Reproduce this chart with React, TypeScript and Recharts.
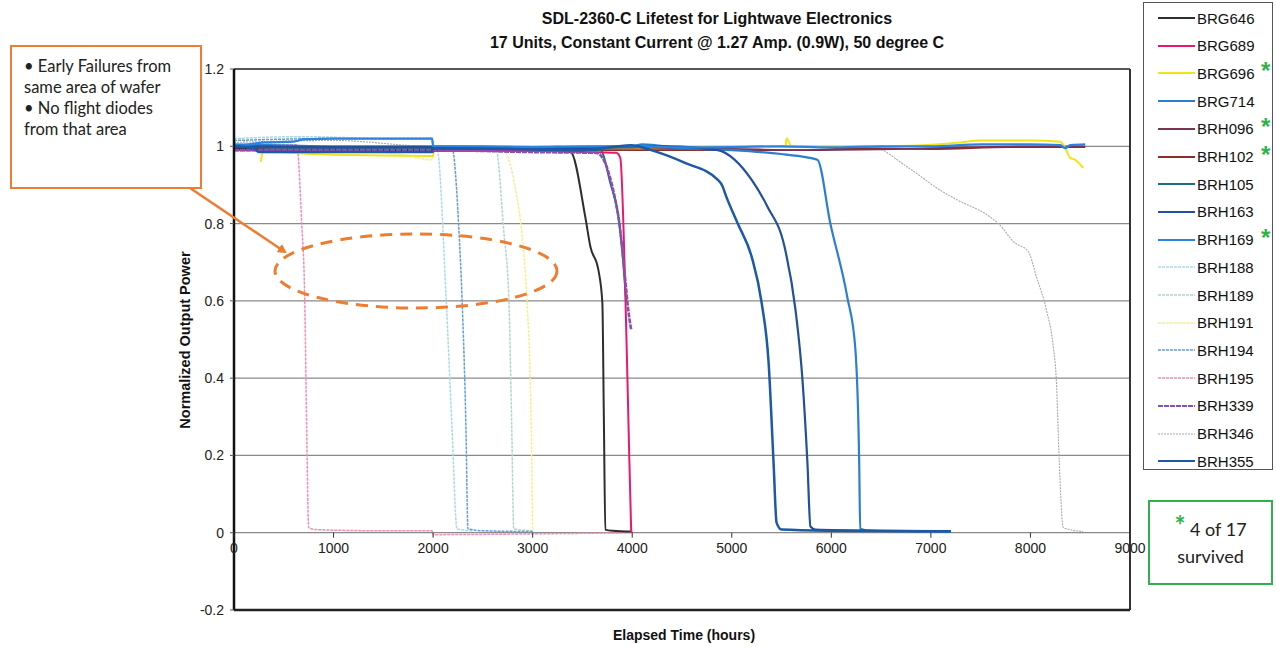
import React from "react";
import {
  LineChart,
  Line,
  XAxis,
  YAxis,
  CartesianGrid,
  ReferenceLine,
} from "recharts";

// ---------- data: [elapsed hours, normalized output power] ----------
const BRG646 = [[0, 0.995], [500, 0.99], [1000, 0.99], [2000, 0.99], [2500, 0.992], [3000, 0.99], [3380, 0.985], [3530, 0.815], [3580, 0.74], [3660, 0.68], [3700, 0.595], [3715, 0.3], [3730, 0.008], [3800, 0.005], [4000, 0.003]];
const BRG689 = [[0, 0.99], [1000, 0.988], [2000, 0.985], [2010, 0.99], [3000, 0.988], [3500, 0.985], [3840, 0.983], [3880, 0.97], [3940, 0.525], [3970, 0.2], [3990, 0.0]];
const BRG696 = [[270, 0.96], [290, 0.985], [1000, 0.978], [2000, 0.975], [2010, 0.995], [3000, 0.995], [4000, 0.997], [5000, 1.0], [5540, 1.0], [5550, 1.02], [5600, 1.0], [6500, 1.0], [7300, 1.01], [7500, 1.015], [8000, 1.015], [8300, 1.012], [8340, 1.0], [8400, 0.97], [8450, 0.965], [8530, 0.944]];
const BRG714 = [[0, 1.005], [1000, 1.0], [2000, 1.0], [3000, 0.997], [4000, 1.0], [4100, 1.005], [4500, 0.995], [5000, 0.99], [5500, 0.98], [5660, 0.975], [5860, 0.965], [5990, 0.8], [6160, 0.61], [6240, 0.48], [6280, 0.18], [6290, 0.01], [6400, 0.005], [7200, 0.004]];
const BRH096 = [[0, 0.995], [1000, 0.99], [2000, 0.99], [3000, 0.992], [4000, 0.995], [5000, 0.993], [5700, 0.99], [6500, 0.992], [7000, 0.995], [7500, 0.998], [8000, 1.0], [8550, 1.0]];
const BRH102 = [[0, 0.99], [1000, 0.99], [2000, 0.988], [3000, 0.99], [4000, 0.99], [5000, 0.99], [5700, 0.99], [6300, 0.995], [7000, 0.993], [7800, 0.998], [8550, 0.998]];
const BRH105 = [[0, 0.998], [1000, 0.995], [2000, 0.995], [3000, 0.993], [3500, 0.99], [3680, 0.99], [3780, 0.905], [3860, 0.82], [3910, 0.7], [3940, 0.595]];
const BRH163 = [[0, 1.0], [1000, 0.998], [2000, 0.998], [2010, 0.995], [3000, 0.995], [4000, 0.998], [4360, 1.0], [4860, 0.99], [5030, 0.965], [5200, 0.913], [5360, 0.843], [5530, 0.74], [5640, 0.577], [5710, 0.396], [5760, 0.18], [5790, 0.016], [5840, 0.008], [6500, 0.005], [7200, 0.004]];
const BRH169 = [[0, 1.0], [150, 1.005], [300, 1.01], [600, 1.012], [700, 1.018], [1000, 1.02], [1500, 1.02], [1990, 1.02], [2000, 1.0], [2500, 1.0], [3000, 0.998], [3500, 1.0], [4000, 1.0], [4500, 0.997], [5000, 0.998], [5500, 1.0], [6000, 0.997], [6500, 1.0], [7000, 1.0], [7500, 1.005], [8000, 1.005], [8300, 1.003], [8350, 0.995], [8400, 1.003], [8550, 1.005]];
const BRH188 = [[0, 1.02], [700, 1.025], [1500, 1.02], [1990, 1.02], [2000, 1.0], [2040, 0.995], [2130, 0.61], [2190, 0.27], [2240, 0.01], [2400, 0.005]];
const BRH189 = [[0, 1.0], [1000, 0.998], [2000, 0.995], [2630, 0.995], [2710, 0.78], [2760, 0.61], [2790, 0.27], [2810, 0.01], [3000, 0.005]];
const BRH191 = [[0, 0.995], [1000, 0.99], [1630, 0.98], [1990, 0.965], [2010, 0.995], [2680, 0.996], [2760, 0.965], [2840, 0.87], [2890, 0.78], [2940, 0.61], [2980, 0.35], [3000, 0.01]];
const BRH194 = [[0, 1.015], [1000, 1.02], [1990, 1.02], [2000, 1.0], [2190, 0.995], [2260, 0.78], [2290, 0.61], [2330, 0.27], [2350, 0.01], [2500, 0.005], [3000, 0.003]];
const BRH195 = [[0, 1.0], [300, 1.005], [630, 1.004], [680, 0.8], [710, 0.61], [730, 0.27], [750, 0.013], [830, 0.008], [1500, 0.005], [1990, 0.005], [2000, -0.005], [3000, -0.003], [4000, 0.0]];
const BRH339 = [[0, 0.99], [1000, 0.99], [2000, 0.99], [3000, 0.985], [3640, 0.983], [3860, 0.82], [3930, 0.655], [3960, 0.577], [3990, 0.525]];
const BRH346 = [[0, 1.01], [1000, 1.015], [2000, 1.0], [3000, 1.0], [4000, 1.0], [5000, 0.998], [6000, 0.998], [6390, 1.0], [6760, 0.947], [7090, 0.887], [7260, 0.862], [7590, 0.818], [7690, 0.797], [7830, 0.753], [7980, 0.727], [8060, 0.662], [8160, 0.577], [8230, 0.48], [8260, 0.396], [8290, 0.18], [8330, 0.013], [8530, 0.003]];
const BRH355 = [[0, 1.0], [200, 0.995], [250, 0.985], [1000, 0.985], [1500, 0.985], [1990, 0.985], [2000, 0.995], [3000, 0.992], [3500, 0.99], [3990, 1.003], [4190, 0.99], [4530, 0.957], [4860, 0.913], [4910, 0.895], [4930, 0.88], [5060, 0.8], [5200, 0.714], [5300, 0.595], [5370, 0.44], [5420, 0.18], [5450, 0.026], [5500, 0.008], [6000, 0.005], [7200, 0.003]];

const X_TICKS = [0, 1000, 2000, 3000, 4000, 5000, 6000, 7000, 8000, 9000];
const Y_TICKS = [-0.2, 0, 0.2, 0.4, 0.6, 0.8, 1, 1.2];
const SURVIVORS = ["BRG696", "BRH096", "BRH102", "BRH169"];

const TITLE_1 = "SDL-2360-C Lifetest for Lightwave Electronics";
const TITLE_2 = "17 Units, Constant Current @ 1.27 Amp. (0.9W), 50 degree C";
const X_LABEL = "Elapsed Time (hours)";
const Y_LABEL = "Normalized Output Power";
const NOTE_LINES = ["• Early Failures from", "same area of wafer", "• No flight diodes", "from that area"];

// legend order
const SERIES = [
  { name: "BRG646", data: BRG646, color: "#2e2e2e", width: 2, dash: undefined },
  { name: "BRG689", data: BRG689, color: "#e8196a", width: 2, dash: undefined },
  { name: "BRG696", data: BRG696, color: "#f0e41a", width: 2, dash: undefined },
  { name: "BRG714", data: BRG714, color: "#2a7fd0", width: 2.2, dash: undefined },
  { name: "BRH096", data: BRH096, color: "#7b3354", width: 1.8, dash: undefined },
  { name: "BRH102", data: BRH102, color: "#8b2f2a", width: 1.8, dash: undefined },
  { name: "BRH105", data: BRH105, color: "#1f6b80", width: 2, dash: undefined },
  { name: "BRH163", data: BRH163, color: "#22509a", width: 2.2, dash: undefined },
  { name: "BRH169", data: BRH169, color: "#2a83e0", width: 2.2, dash: undefined },
  { name: "BRH188", data: BRH188, color: "#a8dbea", width: 1.5, dash: "3 1" },
  { name: "BRH189", data: BRH189, color: "#b2d6cc", width: 1.5, dash: "3 1" },
  { name: "BRH191", data: BRH191, color: "#f2ef9c", width: 1.5, dash: "3 1" },
  { name: "BRH194", data: BRH194, color: "#5e9edb", width: 1.5, dash: "3 1" },
  { name: "BRH195", data: BRH195, color: "#f08db4", width: 1.5, dash: "3 1" },
  { name: "BRH339", data: BRH339, color: "#8a4fb5", width: 2.6, dash: "5 1" },
  { name: "BRH346", data: BRH346, color: "#a6aab2", width: 1.1, dash: "2 1" },
  { name: "BRH355", data: BRH355, color: "#1c5aa6", width: 2.5, dash: undefined },
];

// drawing order: light ones underneath, bold blue ones on top
const DRAW_ORDER = ["BRH346", "BRH191", "BRH189", "BRH188", "BRH194", "BRH195", "BRH102", "BRH096", "BRG696", "BRH105", "BRG646", "BRG689", "BRH339", "BRG714", "BRH163", "BRH169", "BRH355"];

// ---------- layout ----------
const W = 1276;
const H = 648;
const PLOT_LEFT = 234;
const PLOT_RIGHT = 1130;
const PLOT_TOP = 69;
const PLOT_BOTTOM = 610;
const Y_AXIS_W = 60;
const X_AXIS_H = 30;
const Y_MIN = -0.2;
const Y_MAX = 1.2;
const ZERO_Y = PLOT_TOP + ((PLOT_BOTTOM - PLOT_TOP) * (Y_MAX - 0)) / (Y_MAX - Y_MIN);
const FONT = "'Liberation Sans', Arial, sans-serif";
const NOTE_FONT = "Lato, 'Open Sans', sans-serif";
const ORANGE = "#ed7d31";
const GREEN = "#2fb24c";

const fmtY = (v: number) => String(Number(v.toFixed(1)));

const XTick = (props: any) => {
  const { x, payload } = props;
  return (
    <g>
      <line x1={x} x2={x} y1={ZERO_Y} y2={ZERO_Y + 5} stroke="#333" strokeWidth={1} />
      <text x={x} y={ZERO_Y + 20} textAnchor="middle" fontSize={14} fill="#222" fontFamily={FONT}>
        {payload.value}
      </text>
    </g>
  );
};

const toPoints = (arr: number[][]) => arr.map(([x, y]) => ({ x, y }));

export default function App() {
  const byName: Record<string, (typeof SERIES)[number]> = {};
  SERIES.forEach((s) => (byName[s.name] = s));

  return (
    <div style={{ position: "absolute", left: 0, top: 0, width: W, height: H, background: "#fff", fontFamily: FONT, overflow: "hidden" }}>
      <LineChart
        width={W}
        height={H}
        margin={{ top: PLOT_TOP, right: W - PLOT_RIGHT, bottom: H - PLOT_BOTTOM - X_AXIS_H, left: PLOT_LEFT - Y_AXIS_W }}
      >
        <CartesianGrid vertical={false} stroke="#8a8a8a" strokeWidth={1.2} />
        <XAxis
          type="number"
          dataKey="x"
          domain={[0, 9000]}
          ticks={X_TICKS}
          interval={0}
          height={X_AXIS_H}
          axisLine={{ stroke: "#222", strokeWidth: 2.5 }}
          tickLine={false}
          tick={<XTick />}
          allowDataOverflow
        />
        <YAxis
          type="number"
          dataKey="y"
          domain={[Y_MIN, Y_MAX]}
          ticks={Y_TICKS}
          interval={0}
          width={Y_AXIS_W}
          tickFormatter={fmtY}
          axisLine={{ stroke: "#111", strokeWidth: 2.5 }}
          tickLine={{ stroke: "#555" }}
          tickSize={4}
          tickMargin={6}
          tick={{ fontSize: 14, fill: "#222", fontFamily: FONT }}
          allowDataOverflow
        />
        <ReferenceLine y={Y_MAX} stroke="#333" strokeWidth={1.5} />
        <ReferenceLine x={9000} stroke="#333" strokeWidth={2} />
        {DRAW_ORDER.map((n) => {
          const s = byName[n];
          return (
            <Line
              key={s.name}
              name={s.name}
              data={toPoints(s.data)}
              dataKey="y"
              type="monotone"
              stroke={s.color}
              strokeWidth={s.width}
              strokeDasharray={s.dash}
              dot={false}
              activeDot={false}
              isAnimationActive={false}
              strokeLinejoin="round"
            />
          );
        })}
      </LineChart>

      {/* title */}
      <div style={{ position: "absolute", left: 417, width: 600, top: 7, textAlign: "center", fontWeight: 700, fontSize: 16, lineHeight: "24px", color: "#111" }}>
        <div>{TITLE_1}</div>
        <div>{TITLE_2}</div>
      </div>

      {/* axis titles */}
      <div style={{ position: "absolute", left: 234, width: 900, top: 627, textAlign: "center", fontWeight: 700, fontSize: 14, color: "#111" }}>
        {X_LABEL}
      </div>
      <div style={{ position: "absolute", left: 185 - 120, top: 332, width: 240, textAlign: "center", fontWeight: 700, fontSize: 14.5, color: "#111", transform: "rotate(-90deg)" }}>
        {Y_LABEL}
      </div>

      {/* legend */}
      <div style={{ position: "absolute", left: 1143, top: 2, width: 128, height: 466, border: "1px solid #555", background: "#fff" }}>
        {SERIES.map((s, i) => (
          <div key={s.name} style={{ position: "absolute", left: 0, top: 4 + i * 27.7, height: 22, width: 128, display: "flex", alignItems: "center" }}>
            <svg width={52} height={10} style={{ flex: "none" }}>
              <line x1={14} x2={51} y1={5} y2={5} stroke={s.color} strokeWidth={Math.min(s.width, 2)} strokeDasharray={s.dash} />
            </svg>
            <span style={{ fontSize: 15, color: "#111", marginLeft: 1 }}>{s.name}</span>
          </div>
        ))}
      </div>
      {SERIES.map((s, i) =>
        SURVIVORS.includes(s.name) ? (
          <div key={"star" + s.name} style={{ position: "absolute", left: 1261, top: 4 + i * 27.7, fontSize: 24, fontWeight: 700, color: GREEN, lineHeight: "24px" }}>
            *
          </div>
        ) : null
      )}

      {/* survived box */}
      <div style={{ position: "absolute", left: 1148, top: 500, width: 121, height: 81, border: `2.5px solid ${GREEN}`, background: "#fff", fontFamily: NOTE_FONT, fontSize: 18, color: "#222", textAlign: "center" }}>
        <div style={{ marginTop: 12, lineHeight: "30px" }}>
          <span style={{ color: GREEN, fontSize: 26, fontWeight: 700, verticalAlign: "top", lineHeight: "22px" }}>*</span> 4 of 17
        </div>
        <div style={{ lineHeight: "24px" }}>survived</div>
      </div>

      {/* early failures note */}
      <div style={{ position: "absolute", left: 10, top: 45, width: 188, height: 140, border: `2.5px solid ${ORANGE}`, background: "#fff", fontFamily: NOTE_FONT, fontSize: 16.5, color: "#222", lineHeight: "21px" }}>
        <div style={{ padding: "9px 0 0 12px", whiteSpace: "nowrap" }}>
          {NOTE_LINES.map((t) => (
            <div key={t}>{t}</div>
          ))}
        </div>
      </div>
      <svg style={{ position: "absolute", left: 0, top: 0, pointerEvents: "none" }} width={W} height={H}>
        <defs>
          <marker id="arr" markerWidth="10" markerHeight="10" refX="7" refY="5" orient="auto" markerUnits="userSpaceOnUse">
            <path d="M0,0 L9,5 L0,10 z" fill={ORANGE} />
          </marker>
        </defs>
        <line x1={190} y1={188} x2={285} y2={252} stroke={ORANGE} strokeWidth={2.5} markerEnd="url(#arr)" />
        <ellipse cx={416} cy={271} rx={141} ry={37} fill="none" stroke={ORANGE} strokeWidth={3} strokeDasharray="12 8" />
      </svg>
    </div>
  );
}
